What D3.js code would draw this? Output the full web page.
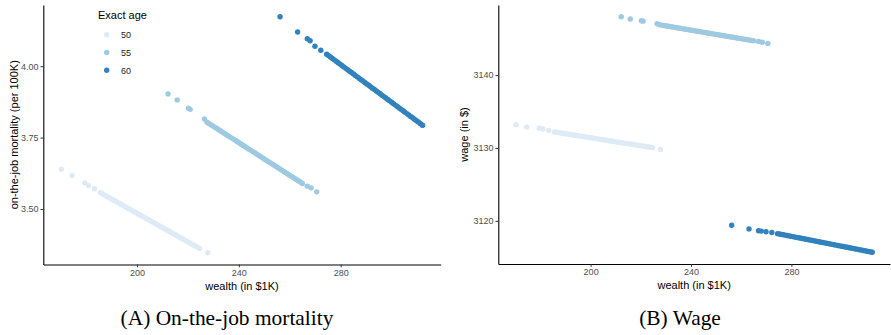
<!DOCTYPE html>
<html>
<head>
<meta charset="utf-8">
<script src="https://cdn.jsdelivr.net/npm/d3@7"></script>
<style>
  body { margin: 0; background: #fff; }
  svg { display: block; }
  text { font-family: "Liberation Sans", Arial, sans-serif; }
  .caption { font-family: "Liberation Serif", "Times New Roman", serif; }
</style>
</head>
<body>
<svg id="chart" width="891" height="335"></svg>
<script>
// ages and their colours (Blues)
const ages = ["50", "55", "60"];
const ageColors = ["#deebf7", "#9ecae1", "#3182bd"];

// wealth (in $1K), same for both panels
const wealth50 = [170.3, 174.5, 179.5, 181.0, 183.3,
    185.60, 186.35, 187.10, 187.85, 188.60, 189.35, 190.10, 190.85, 191.60, 192.35, 193.10, 193.85, 194.60, 195.35, 196.10, 196.85, 197.60, 198.35, 199.10, 199.85,
    200.60, 201.35, 202.10, 202.85, 203.60, 204.35, 205.10, 205.85, 206.60, 207.35, 208.10, 208.85, 209.60, 210.35, 211.10, 211.85, 212.60, 213.35, 214.10, 214.85,
    215.60, 216.35, 217.10, 217.85, 218.60, 219.35, 220.10, 220.85, 221.60, 222.35, 223.10, 223.85, 224.60,
    227.8];
const wealth55 = [212.2, 215.8, 220.2, 220.9, 226.5,
    227.50, 228.25, 229.00, 229.75, 230.50, 231.25, 232.00, 232.75, 233.50, 234.25, 235.00, 235.75, 236.50, 237.25, 238.00, 238.75, 239.50, 240.25, 241.00, 241.75,
    242.50, 243.25, 244.00, 244.75, 245.50, 246.25, 247.00, 247.75, 248.50, 249.25, 250.00, 250.75, 251.50, 252.25, 253.00, 253.75, 254.50, 255.25, 256.00, 256.75,
    257.50, 258.25, 259.00, 259.75, 260.50, 261.25, 262.00, 262.75, 263.50, 264.25, 265.00,
    266.9, 268.4, 270.6];
const wealth60 = [256.2, 263.1, 266.9, 268.0, 269.9, 272.2,
    274.50, 275.25, 276.00, 276.75, 277.50, 278.25, 279.00, 279.75, 280.50, 281.25, 282.00, 282.75, 283.50, 284.25, 285.00, 285.75, 286.50, 287.25, 288.00, 288.75,
    289.50, 290.25, 291.00, 291.75, 292.50, 293.25, 294.00, 294.75, 295.50, 296.25, 297.00, 297.75, 298.50, 299.25, 300.00, 300.75, 301.50, 302.25, 303.00, 303.75,
    304.50, 305.25, 306.00, 306.75, 307.50, 308.25, 309.00, 309.75, 310.50, 311.25, 312.00, 312.2];

// on-the-job mortality (per 100K)
const mort50 = [3.639, 3.617, 3.591, 3.582, 3.571,
    3.5570, 3.5533, 3.5495, 3.5458, 3.5420, 3.5383, 3.5345, 3.5308, 3.5270, 3.5233, 3.5195, 3.5158, 3.5120, 3.5083, 3.5045, 3.5008, 3.4970, 3.4933, 3.4895, 3.4858,
    3.4820, 3.4783, 3.4745, 3.4708, 3.4670, 3.4633, 3.4595, 3.4558, 3.4520, 3.4483, 3.4445, 3.4408, 3.4370, 3.4333, 3.4295, 3.4258, 3.4220, 3.4183, 3.4145, 3.4108,
    3.4070, 3.4033, 3.3995, 3.3958, 3.3920, 3.3883, 3.3845, 3.3808, 3.3770, 3.3733, 3.3695, 3.3658, 3.3620,
    3.347];
const mort55 = [3.903, 3.882, 3.853, 3.849, 3.815,
    3.8040, 3.7997, 3.7954, 3.7911, 3.7868, 3.7826, 3.7783, 3.7740, 3.7697, 3.7654, 3.7611, 3.7568, 3.7525, 3.7482, 3.7439, 3.7397, 3.7354, 3.7311, 3.7268, 3.7225,
    3.7182, 3.7139, 3.7096, 3.7053, 3.7010, 3.6968, 3.6925, 3.6882, 3.6839, 3.6796, 3.6753, 3.6710, 3.6667, 3.6624, 3.6581, 3.6539, 3.6496, 3.6453, 3.6410, 3.6367,
    3.6324, 3.6281, 3.6238, 3.6195, 3.6152, 3.6110, 3.6067, 3.6024, 3.5981, 3.5938, 3.5895,
    3.580, 3.574, 3.560];
const mort60 = [4.173, 4.120, 4.096, 4.089, 4.070, 4.056,
    4.0420, 4.0371, 4.0321, 4.0272, 4.0222, 4.0173, 4.0123, 4.0074, 4.0024, 3.9975, 3.9925, 3.9876, 3.9826, 3.9777, 3.9727, 3.9678, 3.9628, 3.9579, 3.9529, 3.9480,
    3.9430, 3.9381, 3.9331, 3.9282, 3.9232, 3.9183, 3.9133, 3.9084, 3.9034, 3.8985, 3.8935, 3.8886, 3.8836, 3.8787, 3.8737, 3.8688, 3.8638, 3.8589, 3.8539, 3.8490,
    3.8440, 3.8391, 3.8341, 3.8292, 3.8242, 3.8193, 3.8143, 3.8094, 3.8044, 3.7995, 3.7945, 3.793];

// wage (in $)
const wage50 = [3133.20, 3132.90, 3132.70, 3132.60, 3132.40,
    3132.200, 3132.159, 3132.117, 3132.076, 3132.035, 3131.993, 3131.952, 3131.911, 3131.869, 3131.828, 3131.787, 3131.745, 3131.704, 3131.662, 3131.621, 3131.580, 3131.538, 3131.497, 3131.456, 3131.414,
    3131.373, 3131.332, 3131.290, 3131.249, 3131.208, 3131.166, 3131.125, 3131.084, 3131.042, 3131.001, 3130.960, 3130.918, 3130.877, 3130.836, 3130.794, 3130.753, 3130.711, 3130.670, 3130.629, 3130.587,
    3130.546, 3130.505, 3130.463, 3130.422, 3130.381, 3130.339, 3130.298, 3130.257, 3130.215, 3130.174, 3130.133, 3130.091, 3130.050,
    3129.80];
const wage55 = [3148.00, 3147.70, 3147.45, 3147.40, 3147.05,
    3146.900, 3146.856, 3146.812, 3146.768, 3146.724, 3146.680, 3146.636, 3146.592, 3146.548, 3146.504, 3146.460, 3146.416, 3146.372, 3146.328, 3146.284, 3146.240, 3146.196, 3146.152, 3146.108, 3146.064,
    3146.020, 3145.976, 3145.932, 3145.888, 3145.844, 3145.800, 3145.756, 3145.712, 3145.668, 3145.624, 3145.580, 3145.536, 3145.492, 3145.448, 3145.404, 3145.360, 3145.316, 3145.272, 3145.228, 3145.184,
    3145.140, 3145.096, 3145.052, 3145.008, 3144.964, 3144.920, 3144.876, 3144.832, 3144.788, 3144.744, 3144.700,
    3144.60, 3144.50, 3144.35];
const wage60 = [3119.40, 3118.90, 3118.65, 3118.60, 3118.50, 3118.40,
    3118.250, 3118.199, 3118.149, 3118.098, 3118.047, 3117.997, 3117.946, 3117.895, 3117.844, 3117.794, 3117.743, 3117.692, 3117.642, 3117.591, 3117.540, 3117.490, 3117.439, 3117.388, 3117.337, 3117.287,
    3117.236, 3117.185, 3117.135, 3117.084, 3117.033, 3116.983, 3116.932, 3116.881, 3116.830, 3116.780, 3116.729, 3116.678, 3116.628, 3116.577, 3116.526, 3116.476, 3116.425, 3116.374, 3116.323, 3116.273,
    3116.222, 3116.171, 3116.121, 3116.070, 3116.019, 3115.969, 3115.918, 3115.867, 3115.816, 3115.766, 3115.715, 3115.70];

const xTicks = [200, 240, 280];
const mortTicks = [3.50, 3.75, 4.00];
const wageTicks = [3120, 3130, 3140];

const wealthByAge = [wealth50, wealth55, wealth60];
const mortByAge = [mort50, mort55, mort60];
const wageByAge = [wage50, wage55, wage60];

const svg = d3.select("#chart");

// ggplot-like 5% expansion of the data range
function expanded(arrs) {
    const ext = d3.extent(arrs.flat());
    const pad = (ext[1] - ext[0]) * 0.05;
    return [ext[0] - pad, ext[1] + pad];
}

const captions = [];

function drawPanel(opts) {
    const g = svg.append("g");
    const x = d3.scaleLinear().domain(expanded(wealthByAge)).range([opts.left, opts.right]);
    const y = d3.scaleLinear().domain(expanded(opts.values)).range([opts.bottom, opts.top]);

    // points, lightest first
    ages.forEach((age, i) => {
        const pts = wealthByAge[i].map((w, j) => ({ w: w, v: opts.values[i][j] }));
        g.append("g").selectAll("circle")
            .data(pts)
            .join("circle")
            .attr("cx", d => x(d.w))
            .attr("cy", d => y(d.v))
            .attr("r", 2.7)
            .attr("fill", ageColors[i]);
    });

    const xAxis = g.append("g")
        .attr("transform", `translate(0,${opts.bottom})`)
        .call(d3.axisBottom(x).tickValues(xTicks).tickSize(2.8).tickPadding(2).tickSizeOuter(0));
    const yAxis = g.append("g")
        .attr("transform", `translate(${opts.left},0)`)
        .call(d3.axisLeft(y).tickValues(opts.ticks).tickFormat(opts.fmt).tickSize(2.8).tickPadding(2).tickSizeOuter(0));

    [xAxis, yAxis].forEach(a => {
        a.select(".domain").attr("stroke", "#000").attr("stroke-width", 1.1);
        a.selectAll(".tick line").attr("stroke", "#333").attr("stroke-width", 1);
        a.selectAll(".tick text").attr("fill", "#4d4d4d").attr("font-size", 9)
            .style("font-family", "Liberation Sans, Arial, sans-serif");
    });

    g.append("text")
        .attr("x", (opts.left + opts.right) / 2)
        .attr("y", opts.bottom + 25)
        .attr("text-anchor", "middle")
        .attr("font-size", 11)
        .text("wealth (in $1K)");

    g.append("text")
        .attr("transform", `translate(${opts.yTitleX},${(opts.top + opts.bottom) / 2}) rotate(-90)`)
        .attr("text-anchor", "middle")
        .attr("font-size", 11)
        .text(opts.yTitle);

    captions.push(svg.append("text")
        .attr("class", "caption")
        .attr("x", opts.captionX)
        .attr("y", 325)
        .attr("text-anchor", "middle")
        .attr("font-size", 16)
        .text(opts.caption));
}

drawPanel({
    left: 43.3, right: 440.7, top: 5, bottom: 264.5,
    values: mortByAge, ticks: mortTicks, fmt: d3.format(".2f"),
    yTitle: "on-the-job mortality (per 100K)", yTitleX: 18,
    caption: "(A) On-the-job mortality", captionX: 227
});

drawPanel({
    left: 498.3, right: 890, top: 5, bottom: 264,
    values: wageByAge, ticks: wageTicks, fmt: d3.format("d"),
    yTitle: "wage (in $)", yTitleX: 468,
    caption: "(B) Wage", captionX: 680
});

// size the serif captions so caption A is about 213px wide
const capWidth = captions[0].node().getComputedTextLength();
const capSize = 16 * 213 / capWidth;
captions.forEach(c => c.attr("font-size", capSize));

// legend
const legend = svg.append("g");
legend.append("text")
    .attr("x", 98).attr("y", 19)
    .attr("font-size", 11)
    .text("Exact age");
const legendY = d3.scalePoint().domain(ages).range([34.7, 70.3]);
legend.selectAll("circle")
    .data(ages)
    .join("circle")
    .attr("cx", 106.7)
    .attr("cy", d => legendY(d))
    .attr("r", 2.7)
    .attr("fill", (d, i) => ageColors[i]);
legend.selectAll("text.lab")
    .data(ages)
    .join("text")
    .attr("class", "lab")
    .attr("x", 121)
    .attr("y", d => legendY(d) + 3.2)
    .attr("font-size", 9)
    .attr("fill", "#222")
    .text(d => d);
</script>
</body>
</html>
